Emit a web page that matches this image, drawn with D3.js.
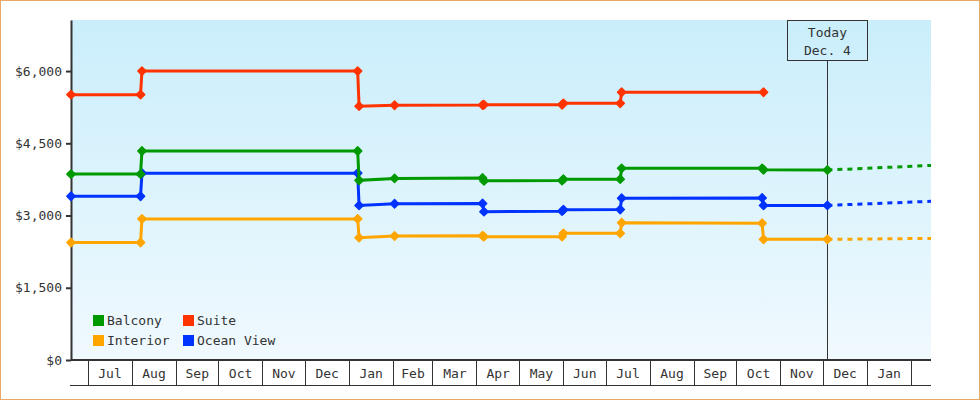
<!DOCTYPE html>
<html>
<head>
<meta charset="utf-8">
<script src="https://cdn.jsdelivr.net/npm/d3@7"></script>
<style>
  body { margin: 0; background: #fff; }
  text { font-family: "DejaVu Sans Mono", monospace; font-size: 13px; fill: #333; }
</style>
</head>
<body>
<div id="chart"></div>
<script>
// observation dates shared by all cabin types
const dates = ["2013-06-19", "2013-08-07", "2013-08-08", "2014-01-07", "2014-01-08", "2014-02-02",
  "2014-04-05", "2014-04-06", "2014-05-31", "2014-06-01", "2014-07-11", "2014-07-12",
  "2014-10-19", "2014-10-20", "2014-12-04"];

// prices per cabin type (null = no observation)
const balcony   = [3860, 3860, 4340, 4340, 3730, 3770, 3780, 3720, 3725, 3755, 3755, 3980, 3980, 3950, 3945];
const suite     = [5510, 5510, 6000, 6000, 5270, 5290, 5295, 5300, 5300, 5330, 5330, 5560, null, 5560, null];
const interior  = [2440, 2440, 2930, 2930, 2540, 2575, 2580, 2560, 2560, 2630, 2630, 2850, 2840, 2505, 2505];
const oceanView = [3400, 3400, 3880, 3880, 3210, 3245, 3250, 3080, 3090, 3120, 3125, 3360, 3365, 3210, 3210];

// forecast from today to the end of the chart
const forecastDates = ["2014-12-04", "2015-02-15"];
const balconyForecast   = [3945, 4040];
const interiorForecast  = [2505, 2525];
const oceanViewForecast = [3210, 3295];

const categories = ["Balcony", "Suite", "Interior", "Ocean View"];
const colors = { "Balcony": "#009900", "Suite": "#ff3300", "Interior": "#ffa500", "Ocean View": "#0033ff" };

const monthLabels = ["Jul", "Aug", "Sep", "Oct", "Nov", "Dec", "Jan", "Feb", "Mar", "Apr",
  "May", "Jun", "Jul", "Aug", "Sep", "Oct", "Nov", "Dec", "Jan"];
const yTicks = [0, 1500, 3000, 4500, 6000];

const todayDate = "2014-12-04";
const todayLabel = ["Today", "Dec. 4"];

// dimensions
const margin = { top: 20, right: 49, bottom: 40, left: 71 };
const width = 980 - margin.left - margin.right;
const height = 400 - margin.top - margin.bottom;

const parse = d3.timeParse("%Y-%m-%d");

const svgRoot = d3.select("#chart")
  .append("svg")
    .attr("width", 980)
    .attr("height", 400);

// outer frame
svgRoot.append("rect")
  .attr("x", 0.5).attr("y", 0.5)
  .attr("width", 979).attr("height", 399)
  .attr("fill", "#fff")
  .attr("stroke", "#e8a964");

const defs = svgRoot.append("defs");
const grad = defs.append("linearGradient")
  .attr("id", "bg").attr("x1", 0).attr("y1", 0).attr("x2", 0).attr("y2", 1);
grad.append("stop").attr("offset", "0%").attr("stop-color", "#caeefb");
grad.append("stop").attr("offset", "100%").attr("stop-color", "#f0f9fe");

const svg = svgRoot.append("g")
  .attr("transform", `translate(${margin.left},${margin.top})`);

// scales
const x = d3.scaleTime()
  .domain([parse("2013-06-19"), parse("2015-02-15")])
  .range([0, width]);

const y = d3.scaleLinear()
  .domain([0, 7060])
  .range([height, 0]);

// plot background
svg.append("rect")
  .attr("width", width)
  .attr("height", height)
  .attr("fill", "url(#bg)");

// month band under the plot
const months = d3.timeMonth.range(parse("2013-07-01"), parse("2015-02-01"));
const band = svg.append("g")
  .attr("transform", `translate(0, ${height})`)
  .attr("shape-rendering", "crispEdges");

band.append("line")
  .attr("x1", 0).attr("x2", width)
  .attr("y1", 0).attr("y2", 0)
  .attr("stroke", "#333").attr("stroke-width", 1.5);
band.append("line")
  .attr("x1", -1).attr("x2", width)
  .attr("y1", 25).attr("y2", 25)
  .attr("stroke", "#333");

band.selectAll(".sep")
  .data(months.concat([parse("2015-02-01")]))
  .enter()
  .append("line")
    .attr("class", "sep")
    .attr("x1", d => x(d)).attr("x2", d => x(d))
    .attr("y1", 0).attr("y2", 25)
    .attr("stroke", "#333");

band.selectAll(".mlabel")
  .data(months)
  .enter()
  .append("text")
    .attr("class", "mlabel")
    .attr("x", d => (x(d) + x(d3.timeMonth.offset(d, 1))) / 2)
    .attr("y", 13)
    .attr("text-anchor", "middle")
    .attr("dominant-baseline", "central")
    .text((d, i) => monthLabels[i]);

// y-axis
const yAxis = svg.append("g")
  .call(d3.axisLeft(y)
    .tickValues(yTicks)
    .tickFormat(d => "$" + d3.format(",")(d))
    .tickSizeInner(5)
    .tickSizeOuter(0)
    .tickPadding(4));
yAxis.select(".domain").attr("stroke", "#333").attr("stroke-width", 2);
yAxis.selectAll(".tick line").attr("stroke", "#333").attr("stroke-width", 2);

// today marker
const tx = x(parse(todayDate));
svg.append("line")
  .attr("x1", tx).attr("x2", tx)
  .attr("y1", 40).attr("y2", height)
  .attr("stroke", "#333")
  .attr("shape-rendering", "crispEdges");
svg.append("rect")
  .attr("x", tx - 40).attr("y", 0.5)
  .attr("width", 80).attr("height", 40)
  .attr("fill", "none")
  .attr("stroke", "#333")
  .attr("shape-rendering", "crispEdges");
svg.selectAll(".today")
  .data(todayLabel)
  .enter()
  .append("text")
    .attr("class", "today")
    .attr("x", tx)
    .attr("y", (d, i) => 12 + i * 18)
    .attr("text-anchor", "middle")
    .attr("dominant-baseline", "central")
    .text(d => d);

// build the series
function toPoints(values, ds) {
  return ds.map((d, i) => ({ date: parse(d), value: values[i] }))
    .filter(d => d.value != null);
}

const series = [
  { name: "Ocean View", points: toPoints(oceanView, dates), forecast: toPoints(oceanViewForecast, forecastDates) },
  { name: "Interior", points: toPoints(interior, dates), forecast: toPoints(interiorForecast, forecastDates) },
  { name: "Balcony", points: toPoints(balcony, dates), forecast: toPoints(balconyForecast, forecastDates) },
  { name: "Suite", points: toPoints(suite, dates), forecast: [] }
];

const line = d3.line()
  .x(d => x(d.date))
  .y(d => y(d.value));

const diamond = d3.symbol().type(d3.symbolSquare).size(34);

series.forEach(function(s) {
  const g = svg.append("g");
  if (s.forecast.length) {
    g.append("path")
      .datum(s.forecast)
      .attr("d", line)
      .attr("fill", "none")
      .attr("stroke", colors[s.name])
      .attr("stroke-width", 3)
      .attr("stroke-dasharray", "5,5");
  }
  g.append("path")
    .datum(s.points)
    .attr("d", line)
    .attr("fill", "none")
    .attr("stroke", colors[s.name])
    .attr("stroke-width", 3);
  g.selectAll(".pt")
    .data(s.points)
    .enter()
    .append("path")
      .attr("class", "pt")
      .attr("d", diamond)
      .attr("transform", d => `translate(${x(d.date)},${y(d.value)}) rotate(45)`)
      .attr("fill", colors[s.name])
      .attr("stroke", colors[s.name])
      .attr("stroke-width", 1.5)
      .attr("stroke-linejoin", "round");
});

// legend
const legend = svg.append("g")
  .attr("transform", "translate(22, 295)");

const item = legend.selectAll(".item")
  .data(categories)
  .enter()
  .append("g")
    .attr("class", "item")
    .attr("transform", (d, i) => `translate(${(i % 2) * 90}, ${Math.floor(i / 2) * 20})`);

item.append("rect")
  .attr("width", 11).attr("height", 11)
  .attr("fill", d => colors[d]);

item.append("text")
  .attr("x", 14)
  .attr("y", 5.5)
  .attr("dominant-baseline", "central")
  .text(d => d);
</script>
</body>
</html>
